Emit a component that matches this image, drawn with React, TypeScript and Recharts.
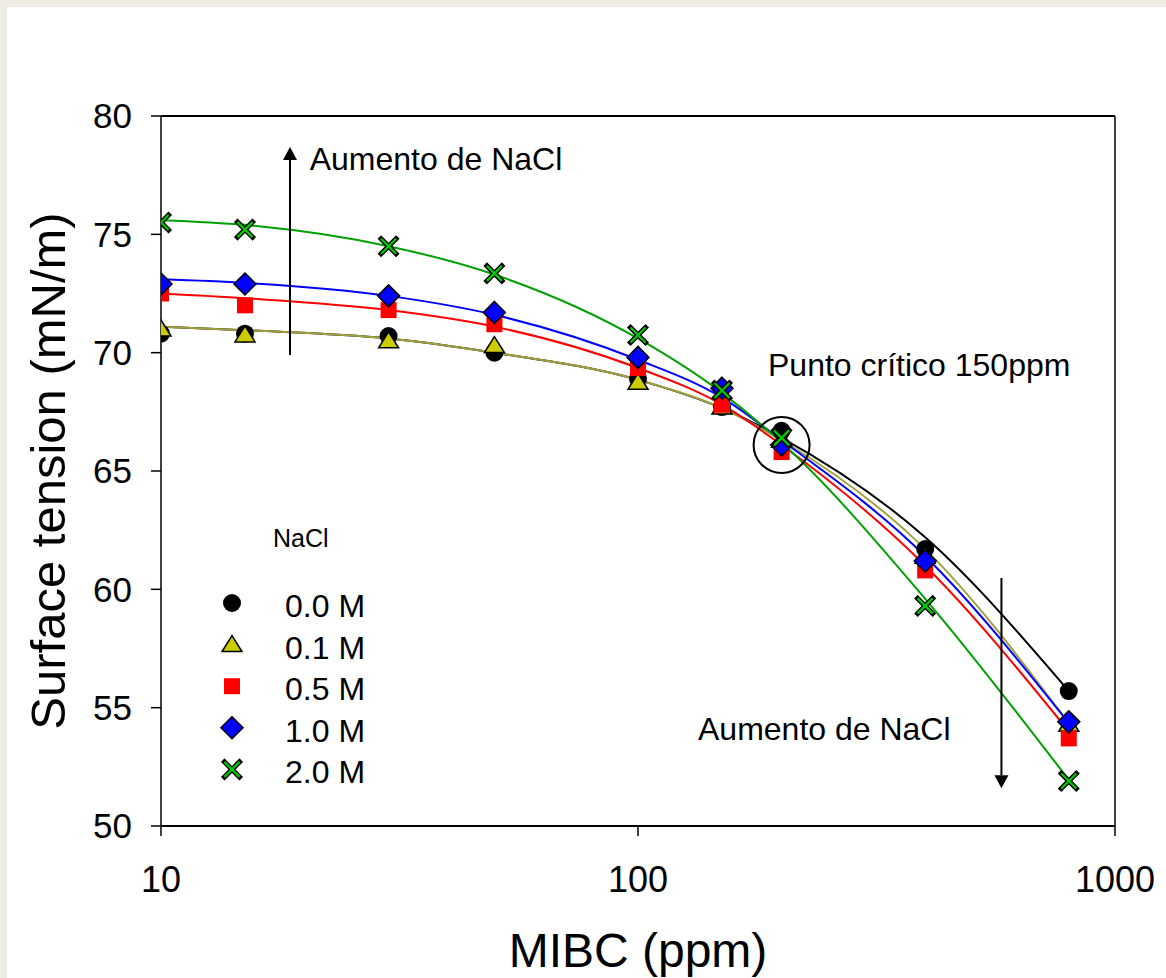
import React from 'react';
import {
  ComposedChart,
  Line,
  Scatter,
  XAxis,
  YAxis,
  ReferenceLine,
  ReferenceDot,
  Legend,
} from 'recharts';

const FONT = '"Liberation Sans", Arial, Helvetica, sans-serif';

// MIBC concentrations (ppm)
const mibc = [10, 15, 30, 50, 100, 150, 200, 400, 800];

// measured surface tension (mN/m)
const st00 = [70.8, 70.8, 70.7, 70.0, 68.9, 67.7, 66.7, 61.7, 55.7];
const st01 = [71.0, 70.75, 70.5, 70.3, 68.75, 67.7, 66.3, 61.4, 54.3];
const st05 = [72.5, 72.0, 71.8, 71.2, 69.35, 67.8, 65.8, 60.8, 53.7];
const st10 = [72.9, 72.9, 72.4, 71.7, 69.8, 68.5, 66.1, 61.2, 54.4];
const st20 = [75.5, 75.2, 74.5, 73.35, 70.75, 68.4, 66.4, 59.3, 51.9];

// fitted curves at the same concentrations
const fit00 = [71.1, 70.95, 70.6, 70.0, 68.85, 67.65, 66.4, 62.2, 55.7];
const fit01 = [71.1, 70.95, 70.6, 70.0, 68.85, 67.65, 66.3, 61.7, 54.35];
const fit05 = [72.5, 72.3, 71.8, 71.1, 69.35, 67.8, 66.1, 61.0, 54.0];
const fit10 = [73.1, 72.95, 72.4, 71.6, 69.7, 68.1, 66.3, 61.4, 54.35];
const fit20 = [75.6, 75.4, 74.5, 73.3, 70.6, 68.3, 66.2, 59.6, 51.95];

const seriesNames = ['0.0 M', '0.1 M', '0.5 M', '1.0 M', '2.0 M'];
const lineColors = ['#000000', '#a0a040', '#ff0000', '#0000ff', '#00a000'];
const xTicks = [10, 100, 1000];
const yTicks = [50, 55, 60, 65, 70, 75, 80];

const measured = [st00, st01, st05, st10, st20];
const fitted = [fit00, fit01, fit05, fit10, fit20];

const data = mibc.map((x, i) => {
  const row: any = { x };
  measured.forEach((s, k) => (row['s' + k] = s[i]));
  fitted.forEach((f, k) => (row['f' + k] = f[i]));
  return row;
});

const markers = [
  (cx: number, cy: number) => <circle cx={cx} cy={cy} r={9} fill="#000" />,
  (cx: number, cy: number) => (
    <polygon
      points={`${cx},${cy - 9} ${cx + 10},${cy + 7} ${cx - 10},${cy + 7}`}
      fill="#cccc00"
      stroke="#000"
      strokeWidth={1.5}
    />
  ),
  (cx: number, cy: number) => <rect x={cx - 8} y={cy - 8} width={16} height={16} fill="#ff0000" />,
  (cx: number, cy: number) => (
    <polygon
      points={`${cx},${cy - 11} ${cx + 11},${cy} ${cx},${cy + 11} ${cx - 11},${cy}`}
      fill="#0000ff"
      stroke="#000"
      strokeWidth={1.5}
    />
  ),
  (cx: number, cy: number) => {
    const d = `M${cx - 7.5},${cy - 7.5}L${cx + 7.5},${cy + 7.5}M${cx + 7.5},${cy - 7.5}L${cx - 7.5},${cy + 7.5}`;
    return (
      <g>
        <path d={d} stroke="#000" strokeWidth={5} strokeLinecap="square" />
        <path d={d} stroke="#00cc00" strokeWidth={2.2} />
      </g>
    );
  },
];

const arrowShape = (p: any) => {
  const { x1, y1, x2, y2 } = p;
  const dir = y2 < y1 ? -1 : 1;
  const head = 13;
  return (
    <g>
      <line x1={x1} y1={y1} x2={x2} y2={y2 - dir * head} stroke="#000" strokeWidth={2} />
      <polygon
        points={`${x2},${y2} ${x2 - 7},${y2 - dir * head} ${x2 + 7},${y2 - dir * head}`}
        fill="#000"
      />
    </g>
  );
};

const textLabel = (value: string) => (props: any) => {
  const vb = props.viewBox || {};
  return (
    <text x={vb.x} y={vb.y} fontSize={32} fontFamily={FONT} fill="#000">
      {value}
    </text>
  );
};

const renderLegend = () => (
  <svg width={220} height={280} style={{ display: 'block', overflow: 'visible' }}>
    <text x={73} y={37} fontSize={25} fontFamily={FONT} fill="#000">
      NaCl
    </text>
    {seriesNames.map((n, i) => {
      const cy = 93 + i * 41.6;
      return (
        <g key={n}>
          {markers[i](32, cy)}
          <text x={85} y={cy + 14} fontSize={32} fontFamily={FONT} fill="#000">
            {n}
          </text>
        </g>
      );
    })}
  </svg>
);

const yTitle = (props: any) => {
  const vb = props.viewBox || {};
  const x = vb.x + 4;
  const y = vb.y + vb.height / 2;
  return (
    <text
      x={x}
      y={y}
      transform={`rotate(-90, ${x}, ${y})`}
      textAnchor="middle"
      fontSize={49}
      fontFamily={FONT}
      fill="#000"
    >
      Surface tension (mN/m)
    </text>
  );
};

const xTitle = (props: any) => {
  const vb = props.viewBox || {};
  return (
    <text
      x={vb.x + vb.width / 2}
      y={vb.y + 141}
      textAnchor="middle"
      fontSize={48}
      fontFamily={FONT}
      fill="#000"
    >
      MIBC (ppm)
    </text>
  );
};

export default function App() {
  return (
    <div
      style={{
        position: 'absolute',
        left: 0,
        top: 0,
        width: 1166,
        height: 978,
        background: '#eeebe0',
        overflow: 'hidden',
        fontFamily: FONT,
      }}
    >
      <div
        style={{ position: 'absolute', left: 7, top: 7, width: 1159, height: 971, background: '#fff' }}
      />
      <div style={{ position: 'absolute', left: 0, top: 0 }}>
        <ComposedChart
          width={1166}
          height={978}
          data={data}
          margin={{ top: 116, right: 51, bottom: 52, left: 61 }}
        >
          <XAxis
            dataKey="x"
            type="number"
            scale="log"
            domain={[10, 1000]}
            ticks={xTicks}
            allowDataOverflow
            height={100}
            tickSize={10}
            tickMargin={30}
            axisLine={{ stroke: '#000', strokeWidth: 2 }}
            tickLine={{ stroke: '#000', strokeWidth: 1.5 }}
            tick={{ fontSize: 36, fill: '#000', fontFamily: FONT }}
            label={xTitle}
          />
          <YAxis
            type="number"
            domain={[50, 80]}
            ticks={yTicks}
            allowDataOverflow
            width={100}
            tickSize={10}
            tickMargin={19}
            axisLine={{ stroke: '#000', strokeWidth: 1.5 }}
            tickLine={{ stroke: '#000', strokeWidth: 1.5 }}
            tick={{ fontSize: 35, fill: '#000', fontFamily: FONT }}
            label={yTitle}
          />
          <ReferenceLine y={80} stroke="#000" strokeWidth={2} />
          <ReferenceLine x={1000} stroke="#000" strokeWidth={1.5} />

          {seriesNames.map((n, i) => (
            <Scatter
              key={'s' + i}
              name={n}
              dataKey={'s' + i}
              isAnimationActive={false}
              shape={(p: any) => markers[i](p.cx, p.cy)}
            />
          ))}
          {seriesNames.map((n, i) => (
            <Line
              key={'f' + i}
              dataKey={'f' + i}
              type="monotone"
              stroke={lineColors[i]}
              strokeWidth={2}
              dot={false}
              activeDot={false}
              legendType="none"
              isAnimationActive={false}
            />
          ))}

          <ReferenceLine
            segment={[
              { x: 18.64, y: 69.9 },
              { x: 18.64, y: 78.69 },
            ]}
            shape={arrowShape}
          />
          <ReferenceLine
            segment={[
              { x: 578, y: 60.48 },
              { x: 578, y: 51.6 },
            ]}
            shape={arrowShape}
          />
          <ReferenceDot x={200} y={66.1} r={28} fill="none" stroke="#000" strokeWidth={2} />
          <ReferenceDot x={20.5} y={77.72} r={0} fill="none" stroke="none" label={textLabel('Aumento de NaCl')} />
          <ReferenceDot x={187.3} y={69.01} r={0} fill="none" stroke="none" label={textLabel('Punto crítico 150ppm')} />
          <ReferenceDot x={133.6} y={53.63} r={0} fill="none" stroke="none" label={textLabel('Aumento de NaCl')} />

          <Legend
            layout="horizontal"
            verticalAlign="middle"
            align="center"
            content={renderLegend}
            wrapperStyle={{ left: 200, top: 510, width: 220, height: 280 }}
          />
        </ComposedChart>
      </div>
    </div>
  );
}
